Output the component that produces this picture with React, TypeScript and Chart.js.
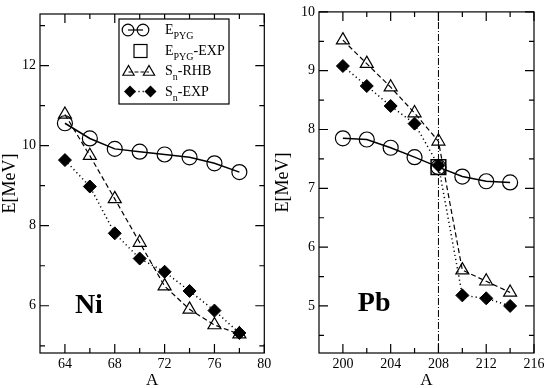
import React, { useEffect, useRef } from "react";
import { Chart, registerables } from "chart.js";
Chart.register(...registerables);

const FONT = "'Liberation Serif', 'Times New Roman', Times, serif";
Chart.defaults.font.family = FONT;
Chart.defaults.color = "#000";

// ---- Ni panel data ----
const niA = [64, 66, 68, 70, 72, 74, 76, 78];
const niEpyg = [10.56, 10.18, 9.92, 9.85, 9.78, 9.71, 9.56, 9.34];
const niSnRhb = [10.78, 9.75, 8.67, 7.58, 6.49, 5.91, 5.52, 5.29];
const niSnExp = [9.64, 8.98, 7.81, 7.18, 6.85, 6.37, 5.88, 5.32];
const niXTicks = [64, 68, 72, 76, 80];
const niXMinor = [66, 70, 74, 78];
const niYTicks = [6, 8, 10, 12];
const niYMinor = [5, 7, 9, 11, 13];

// ---- Pb panel data ----
const pbA = [200, 202, 204, 206, 208, 210, 212, 214];
const pbEpyg = [7.85, 7.83, 7.69, 7.53, 7.36, 7.2, 7.12, 7.1];
const pbEpygExpA = [208];
const pbEpygExp = [7.36];
const pbSnRhb = [9.52, 9.12, 8.72, 8.28, 7.8, 5.61, 5.42, 5.23];
const pbSnExp = [9.08, 8.74, 8.4, 8.1, 7.39, 5.18, 5.13, 5.0];
const pbXTicks = [200, 204, 208, 212, 216];
const pbXMinor = [202, 206, 210, 214];
const pbYTicks = [5, 6, 7, 8, 9, 10];
const pbYMinor = [4.5, 5.5, 6.5, 7.5, 8.5, 9.5];
const pbMarkerA = [208, 208];
const pbMarkerY = [4.2, 10];

const pts = (xs: number[], ys: number[]) => xs.map((x, i) => ({ x, y: ys[i] }));

const epygStyle = {
  borderColor: "#000",
  borderWidth: 1.5,
  pointStyle: "circle",
  pointRadius: 7.5,
  pointBorderWidth: 1.2,
  pointBorderColor: "#000",
  pointBackgroundColor: "rgba(0,0,0,0)",
  showLine: true,
  tension: 0,
};
const rhbStyle = {
  borderColor: "#000",
  borderWidth: 1.2,
  borderDash: [5, 3],
  pointStyle: "triangle",
  pointRadius: 7.5,
  pointBorderWidth: 1.2,
  pointBorderColor: "#000",
  pointBackgroundColor: "rgba(0,0,0,0)",
  showLine: true,
  tension: 0,
};
const expStyle = {
  borderColor: "#000",
  borderWidth: 1.5,
  borderDash: [1.2, 3],
  pointStyle: "rectRot",
  pointRadius: 6.5,
  pointBorderWidth: 1,
  pointBorderColor: "#000",
  pointBackgroundColor: "#000",
  showLine: true,
  tension: 0,
};

function frameTicksPlugin(xMajor: number[], xMinor: number[], yMajor: number[], yMinor: number[]) {
  return {
    id: "frameTicks",
    afterDatasetsDraw(chart: any) {
      const { ctx, chartArea: a, scales } = chart;
      const xs = scales.x;
      const ys = scales.y;
      ctx.save();
      ctx.setLineDash([]);
      ctx.strokeStyle = "#000";
      ctx.lineWidth = 1.2;
      ctx.strokeRect(a.left, a.top, a.right - a.left, a.bottom - a.top);
      const xt = (vals: number[], len: number) => {
        vals.forEach((v) => {
          const p = xs.getPixelForValue(v);
          ctx.beginPath();
          ctx.moveTo(p, a.bottom);
          ctx.lineTo(p, a.bottom - len);
          ctx.moveTo(p, a.top);
          ctx.lineTo(p, a.top + len);
          ctx.stroke();
        });
      };
      const yt = (vals: number[], len: number) => {
        vals.forEach((v) => {
          const p = ys.getPixelForValue(v);
          ctx.beginPath();
          ctx.moveTo(a.left, p);
          ctx.lineTo(a.left + len, p);
          ctx.moveTo(a.right, p);
          ctx.lineTo(a.right - len, p);
          ctx.stroke();
        });
      };
      xt(xMajor, 9);
      xt(xMinor, 5);
      yt(yMajor, 9);
      yt(yMinor, 5);
      ctx.restore();
    },
  };
}

function panelLabelPlugin(text: string, xv: number, yv: number) {
  return {
    id: "panelLabel",
    afterDraw(chart: any) {
      const { ctx, scales } = chart;
      ctx.save();
      ctx.fillStyle = "#000";
      ctx.font = `bold 28px ${FONT}`;
      ctx.textAlign = "left";
      ctx.textBaseline = "alphabetic";
      ctx.fillText(text, scales.x.getPixelForValue(xv), scales.y.getPixelForValue(yv));
      ctx.restore();
    },
  };
}

function drawRich(ctx: any, x: number, y: number, parts: { t: string; sub?: boolean }[]) {
  let cx = x;
  parts.forEach((p) => {
    ctx.font = p.sub ? `10px ${FONT}` : `14px ${FONT}`;
    ctx.fillText(p.t, cx, p.sub ? y + 5 : y);
    cx += ctx.measureText(p.t).width;
  });
}

const legendPlugin = {
  id: "customLegend",
  afterDraw(chart: any) {
    const ctx = chart.ctx;
    ctx.save();
    ctx.fillStyle = "#fff";
    ctx.fillRect(119, 19, 110, 85);
    ctx.strokeStyle = "#000";
    ctx.lineWidth = 1.2;
    ctx.setLineDash([]);
    ctx.strokeRect(119, 19, 110, 85);
    ctx.lineWidth = 1.2;
    // row 1 circles
    ctx.beginPath();
    ctx.moveTo(128, 30);
    ctx.lineTo(143, 30);
    ctx.stroke();
    [128, 143].forEach((x) => {
      ctx.beginPath();
      ctx.arc(x, 30, 5.8, 0, Math.PI * 2);
      ctx.stroke();
    });
    // row 2 square
    ctx.strokeRect(134, 44.5, 13, 13);
    // row 3 triangles dashed
    ctx.setLineDash([4, 2]);
    ctx.beginPath();
    ctx.moveTo(128.5, 72);
    ctx.lineTo(149, 72);
    ctx.stroke();
    ctx.setLineDash([]);
    [128.5, 149].forEach((x) => {
      const r = 6.5;
      ctx.beginPath();
      ctx.moveTo(x, 72 - r);
      ctx.lineTo(x + r * 0.866, 72 + r * 0.5);
      ctx.lineTo(x - r * 0.866, 72 + r * 0.5);
      ctx.closePath();
      ctx.stroke();
    });
    // row 4 diamonds dotted
    ctx.setLineDash([1.2, 3]);
    ctx.lineWidth = 1.5;
    ctx.beginPath();
    ctx.moveTo(130, 91.5);
    ctx.lineTo(150.5, 91.5);
    ctx.stroke();
    ctx.setLineDash([]);
    ctx.fillStyle = "#000";
    [130, 150.5].forEach((x) => {
      const r = 6;
      ctx.beginPath();
      ctx.moveTo(x, 91.5 - r);
      ctx.lineTo(x + r, 91.5);
      ctx.lineTo(x, 91.5 + r);
      ctx.lineTo(x - r, 91.5);
      ctx.closePath();
      ctx.fill();
    });
    // text
    ctx.fillStyle = "#000";
    ctx.textAlign = "left";
    ctx.textBaseline = "alphabetic";
    drawRich(ctx, 165, 34, [{ t: "E" }, { t: "PYG", sub: true }]);
    drawRich(ctx, 165, 54.5, [{ t: "E" }, { t: "PYG", sub: true }, { t: "-EXP" }]);
    drawRich(ctx, 165, 75, [{ t: "S" }, { t: "n", sub: true }, { t: "-RHB" }]);
    drawRich(ctx, 165, 95.5, [{ t: "S" }, { t: "n", sub: true }, { t: "-EXP" }]);
    ctx.restore();
  },
};

function makeOptions(cfg: {
  xMin: number; xMax: number; yMin: number; yMax: number;
  xTicks: number[]; yTicks: number[];
  yWidth: number; padRight: number; padTop: number;
}) {
  const tickFont = { family: FONT, size: 14 };
  return {
    responsive: false,
    animation: false,
    events: [],
    layout: { padding: { left: 0, right: cfg.padRight, top: cfg.padTop, bottom: 0 } },
    plugins: { legend: { display: false }, tooltip: { enabled: false } },
    scales: {
      x: {
        type: "linear",
        min: cfg.xMin,
        max: cfg.xMax,
        grid: { display: false, drawTicks: false },
        border: { display: false },
        ticks: { font: tickFont, color: "#000", padding: 3, autoSkip: false, maxRotation: 0, minRotation: 0 },
        title: { display: true, text: "A", color: "#000", font: { family: FONT, size: 17, lineHeight: 1 }, padding: { top: 0, bottom: -1 } },
        afterBuildTicks: (s: any) => { s.ticks = cfg.xTicks.map((v) => ({ value: v })); },
        afterFit: (s: any) => { s.height = 35; s.paddingLeft = 0; s.paddingRight = 0; s.paddingTop = 0; s.paddingBottom = 0; },
      },
      y: {
        type: "linear",
        min: cfg.yMin,
        max: cfg.yMax,
        grid: { display: false, drawTicks: false },
        border: { display: false },
        ticks: { font: tickFont, color: "#000", padding: 4, autoSkip: false },
        title: { display: true, text: "E[MeV]", color: "#000", font: { family: FONT, size: 18, lineHeight: 1 }, padding: { top: 1, bottom: 0 } },
        afterBuildTicks: (s: any) => { s.ticks = cfg.yTicks.map((v) => ({ value: v })); },
        afterFit: (s: any) => { s.width = cfg.yWidth; s.paddingLeft = 0; s.paddingRight = 0; s.paddingTop = 0; s.paddingBottom = 0; },
      },
    },
  };
}

function NiPanel() {
  const ref = useRef<HTMLCanvasElement>(null);
  useEffect(() => {
    const chart = new Chart(ref.current as HTMLCanvasElement, {
      type: "scatter",
      data: {
        datasets: [
          { label: "Sn-EXP", data: pts(niA, niSnExp), ...expStyle, order: 1 },
          { label: "Sn-RHB", data: pts(niA, niSnRhb), ...rhbStyle, order: 2 },
          { label: "EPYG", data: pts(niA, niEpyg), ...epygStyle, order: 3 },
        ],
      } as any,
      options: makeOptions({
        xMin: 62, xMax: 80, yMin: 4.82, yMax: 13.29,
        xTicks: niXTicks, yTicks: niYTicks,
        yWidth: 40, padRight: 8, padTop: 14,
      }) as any,
      plugins: [frameTicksPlugin(niXTicks, niXMinor, niYTicks, niYMinor), panelLabelPlugin("Ni", 64.8, 5.82), legendPlugin],
    });
    return () => chart.destroy();
  }, []);
  return <canvas ref={ref} width={273} height={388} style={{ display: "block" }} />;
}

function PbPanel() {
  const ref = useRef<HTMLCanvasElement>(null);
  useEffect(() => {
    const chart = new Chart(ref.current as HTMLCanvasElement, {
      type: "scatter",
      data: {
        datasets: [
          { label: "Sn-EXP", data: pts(pbA, pbSnExp), ...expStyle, order: 1 },
          { label: "EPYG-EXP", data: pts(pbEpygExpA, pbEpygExp), borderColor: "#000", pointStyle: "rect", pointRadius: 10.4, pointBorderWidth: 1.5, pointBorderColor: "#000", pointBackgroundColor: "rgba(0,0,0,0)", showLine: false, order: 2 },
          { label: "Sn-RHB", data: pts(pbA, pbSnRhb), ...rhbStyle, order: 3 },
          { label: "EPYG", data: pts(pbA, pbEpyg), ...epygStyle, order: 4 },
          { label: "A=208", data: pts(pbMarkerA, pbMarkerY), borderColor: "#000", borderWidth: 1, borderDash: [7, 2, 1, 2], pointRadius: 0, showLine: true, order: 5 },
        ],
      } as any,
      options: makeOptions({
        xMin: 198, xMax: 216, yMin: 4.2, yMax: 10,
        xTicks: pbXTicks, yTicks: pbYTicks,
        yWidth: 46, padRight: 12, padTop: 7,
      }) as any,
      plugins: [frameTicksPlugin(pbXTicks, pbXMinor, pbYTicks, pbYMinor), panelLabelPlugin("Pb", 201.25, 4.91)],
    });
    return () => chart.destroy();
  }, []);
  return <canvas ref={ref} width={273} height={388} style={{ display: "block" }} />;
}

export default function App() {
  return (
    <div style={{ position: "absolute", left: 0, top: 0, width: 546, height: 388, background: "#fff" }}>
      <div style={{ position: "absolute", left: 0, top: 0, width: 273, height: 388 }}>
        <NiPanel />
      </div>
      <div style={{ position: "absolute", left: 273, top: 0, width: 273, height: 388 }}>
        <PbPanel />
      </div>
    </div>
  );
}
